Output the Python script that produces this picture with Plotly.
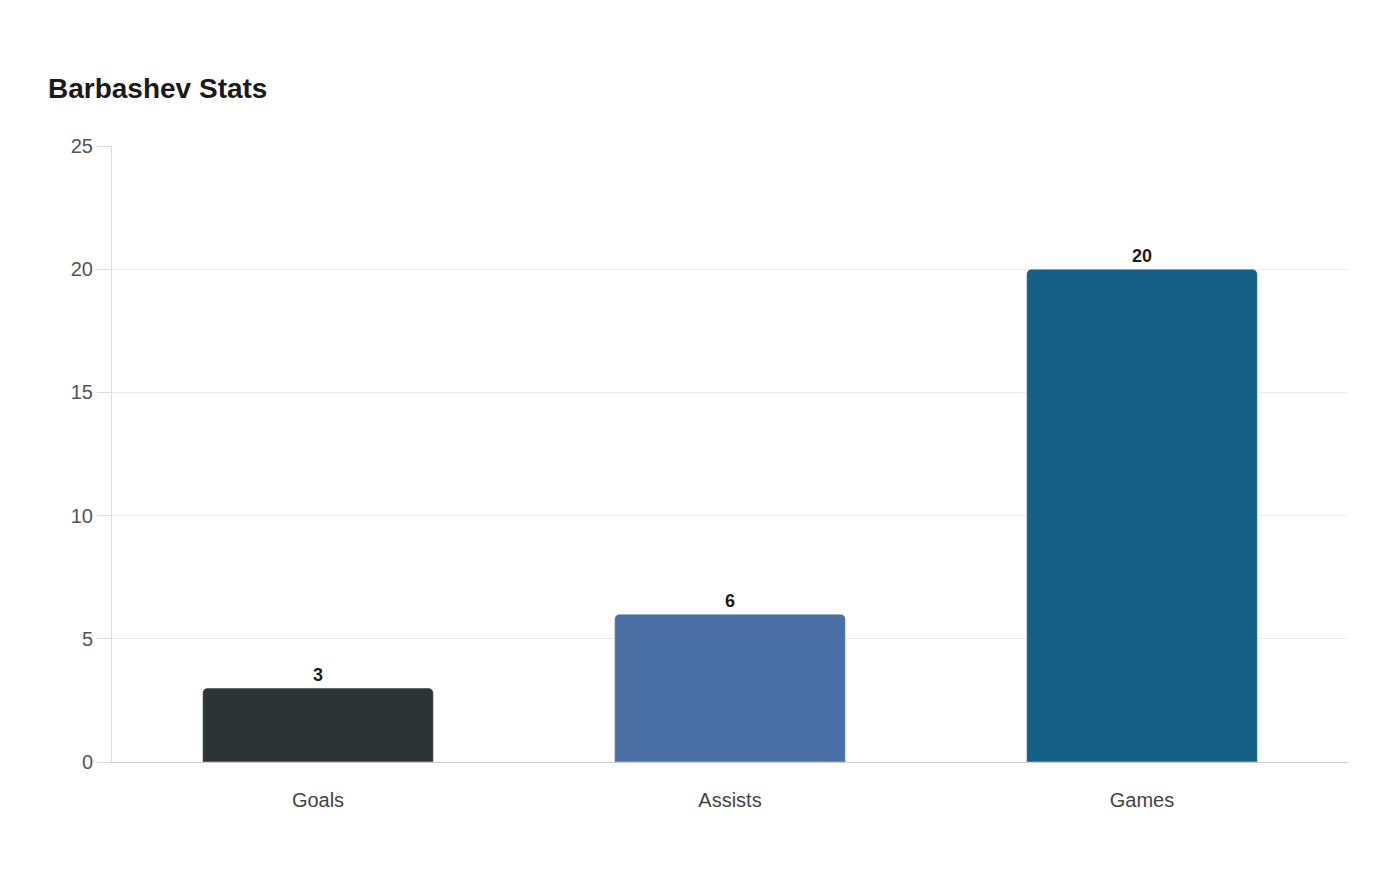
import plotly.graph_objects as go

# chart data
categories = ["Goals", "Assists", "Games"]
values = [3, 6, 20]
bar_colors = ["#2d3436", "#4a6fa5", "#166088"]

fig = go.Figure(go.Bar(
    x=categories,
    y=values,
    marker=dict(color=bar_colors, cornerradius=5),
    text=[str(v) for v in values],
    textposition="outside",
    textfont=dict(family="Liberation Sans, Arial", size=18, color="#1a1a1a", weight="bold"),
    cliponaxis=False,
    width=0.56,
))

fig.update_layout(
    width=1400, height=880,
    paper_bgcolor="white", plot_bgcolor="white",
    margin=dict(l=104, r=60, t=138, b=126),
    font=dict(family="Liberation Sans, Arial", color="#555"),
    title=dict(text="<b>Barbashev Stats</b>", x=40/1400, xanchor="left",
               y=1-80/880, yanchor="middle",
               font=dict(size=28, color="#1a1a1a")),
    showlegend=False,
)
fig.update_yaxes(range=[0, 25], dtick=5, showgrid=True, gridcolor="#ebebeb",
                 zeroline=False, showline=True, linecolor="#dddddd",
                 ticks="outside", ticklen=14, tickcolor="#dddddd",
                 tickfont=dict(size=20, color="#555"))
fig.update_xaxes(showline=True, linecolor="#cccccc", ticks="",
                 tickfont=dict(size=20, color="#444"), ticklabelstandoff=20)

fig.write_html("out.html")
